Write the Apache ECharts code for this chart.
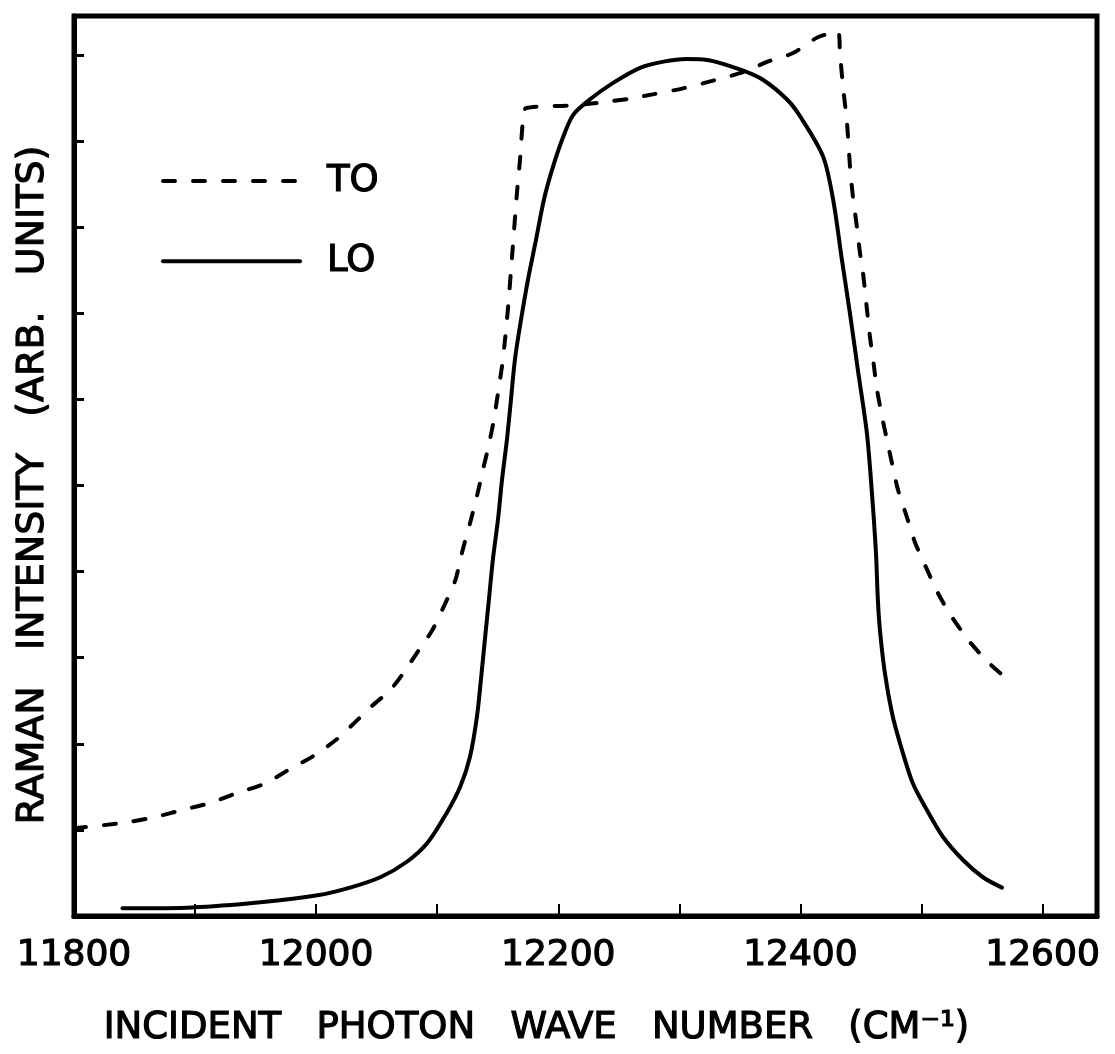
<!DOCTYPE html>
<html>
<head>
<meta charset="utf-8">
<script src="https://cdn.jsdelivr.net/npm/echarts@6/dist/echarts.min.js"></script>
<style>
  html, body { margin: 0; padding: 0; background: #fff; }
  #chart { width: 1115px; height: 1054px; }
</style>
</head>
<body>
<div id="chart"></div>
<script>
// TO phonon: incident wave number (cm^-1) and Raman intensity (arb. units)
const toWavenumber = [
  11800, 11840, 11867, 11889, 11912, 11935, 11958, 11980, 11997, 12016,
  12030, 12047, 12061, 12072, 12084, 12096, 12106, 12115, 12120.5, 12127.1,
  12132.9, 12137.8, 12142.8, 12146.9, 12150.2, 12153.5, 12156.0, 12158.5, 12161.8, 12165.9,
  12168.4, 12170.9, 12173.3, 12208, 12232, 12259, 12278, 12303, 12328, 12353,
  12373, 12394, 12414, 12431, 12432.7, 12435.2, 12438.5, 12441.0, 12443.4, 12446.7,
  12449.2, 12451.7, 12455.0, 12457.5, 12460.8, 12463.3, 12467.4, 12471.5, 12475.6, 12480.6,
  12488.0, 12494.6, 12503.7, 12513.6, 12525.2, 12540.1, 12554.9, 12573.1
];
const toIntensity = [
  1.02, 1.08, 1.15, 1.23, 1.31, 1.43, 1.54, 1.72, 1.85, 2.04,
  2.22, 2.45, 2.62, 2.82, 3.07, 3.32, 3.61, 3.90, 4.22, 4.56,
  4.88, 5.18, 5.48, 5.77, 6.07, 6.38, 6.69, 7.06, 7.65, 8.40,
  8.78, 9.25, 9.38, 9.41, 9.44, 9.49, 9.54, 9.61, 9.70, 9.80,
  9.92, 10.02, 10.20, 10.27, 10.02, 9.63, 9.21, 8.70, 8.35, 8.00,
  7.70, 7.47, 7.04, 6.72, 6.38, 6.11, 5.80, 5.53, 5.26, 4.95,
  4.63, 4.34, 4.05, 3.75, 3.47, 3.18, 2.95, 2.72
];

// LO phonon
const loWavenumber = [
  11840, 11898, 11954, 12001, 12028, 12053, 12075, 12092, 12108, 12119,
  12127.1, 12132.8, 12136.1, 12139.4, 12142.7, 12146.0, 12150.2, 12153.5, 12157.6, 12160.9,
  12164.2, 12169.2, 12175.0, 12181.6, 12188.2, 12194.8, 12203.1, 12212.2, 12226, 12245,
  12268, 12287, 12306, 12323, 12350, 12369, 12389, 12400, 12418.7, 12427.0,
  12434.3, 12440.9, 12447.5, 12454.9, 12459.1, 12462.4, 12464.0, 12465.7, 12469.8, 12475.6,
  12482.2, 12492.9, 12504.5, 12517.7, 12534.3, 12550.8, 12566.5
];
const loIntensity = [
  0.09, 0.10, 0.16, 0.24, 0.33, 0.45, 0.63, 0.85, 1.20, 1.50,
  1.85, 2.31, 2.74, 3.21, 3.67, 4.14, 4.60, 5.06, 5.53, 5.99,
  6.46, 6.92, 7.39, 7.85, 8.32, 8.66, 9.01, 9.30, 9.48, 9.67,
  9.85, 9.92, 9.95, 9.94, 9.83, 9.71, 9.48, 9.28, 8.82, 8.32,
  7.62, 7.00, 6.34, 5.61, 4.91, 4.22, 3.67, 3.32, 2.82, 2.36,
  2.01, 1.54, 1.23, 0.92, 0.65, 0.45, 0.33
];

const seriesNames = ['TO', 'LO'];
const xTitle = 'INCIDENT   PHOTON   WAVE   NUMBER   (CM\u207B\u00B9)';
const yTitle = 'RAMAN   INTENSITY   (ARB.   UNITS)';

const zip = (xs, ys) => xs.map((x, i) => [x, ys[i]]);

const FONT = 'DejaVu Sans';
// slight outline thickens the strokes of the lettering
const ink = { color: '#000', textBorderColor: '#000', textBorderWidth: 1.2 };

const chart = echarts.init(document.getElementById('chart'), null, { renderer: 'canvas' });

chart.setOption({
  animation: false,
  backgroundColor: '#ffffff',
  grid: {
    left: 74, top: 16, width: 1023, height: 900,
    show: true, borderColor: '#000', borderWidth: 5, backgroundColor: 'transparent'
  },
  legend: {
    orient: 'vertical',
    left: 156, top: 157,
    itemWidth: 137, itemHeight: 14, itemGap: 42,
    data: seriesNames,
    itemStyle: { color: 'transparent', borderWidth: 0, opacity: 0 },
    lineStyle: { width: 4, color: '#000' },
    textStyle: Object.assign({ fontFamily: FONT, fontSize: 37, padding: [0, 0, 0, 22] }, ink),
    selectedMode: false
  },
  xAxis: {
    type: 'value',
    min: 11800, max: 12645, interval: 100,
    axisLine: { show: true, lineStyle: { color: '#000', width: 5 } },
    axisTick: { show: true, inside: true, length: 12, lineStyle: { color: '#000', width: 2 } },
    splitLine: { show: false },
    axisLabel: Object.assign({
      margin: 22, fontFamily: FONT, fontSize: 36,
      showMaxLabel: false,
      formatter: v => (v % 200 === 0 ? String(v) : '')
    }, ink),
    name: xTitle,
    nameLocation: 'middle',
    nameGap: 94,
    nameTextStyle: Object.assign({ fontFamily: FONT, fontSize: 37, padding: [0, 98, 0, 0] }, ink)
  },
  yAxis: {
    type: 'value',
    min: 0, max: 10.45, interval: 1,
    axisLine: { show: true, lineStyle: { color: '#000', width: 5 } },
    axisTick: { show: true, inside: true, length: 10, lineStyle: { color: '#000', width: 3 } },
    splitLine: { show: false },
    axisLabel: { show: false },
    name: yTitle,
    nameLocation: 'middle',
    nameGap: 22,
    nameTextStyle: Object.assign({ fontFamily: FONT, fontSize: 38, padding: [0, 38, 0, 0] }, ink)
  },
  series: [
    {
      name: seriesNames[0],
      type: 'line',
      data: zip(toWavenumber, toIntensity),
      symbol: 'none',
      smooth: 0.25,
      lineStyle: { color: '#000', width: 4, type: [12, 18], cap: 'round', join: 'round' },
      itemStyle: { color: '#000' }
    },
    {
      name: seriesNames[1],
      type: 'line',
      data: zip(loWavenumber, loIntensity),
      symbol: 'none',
      smooth: 0.3,
      lineStyle: { color: '#000', width: 4, type: 'solid', cap: 'round', join: 'round' },
      itemStyle: { color: '#000' }
    }
  ]
});
</script>
</body>
</html>
